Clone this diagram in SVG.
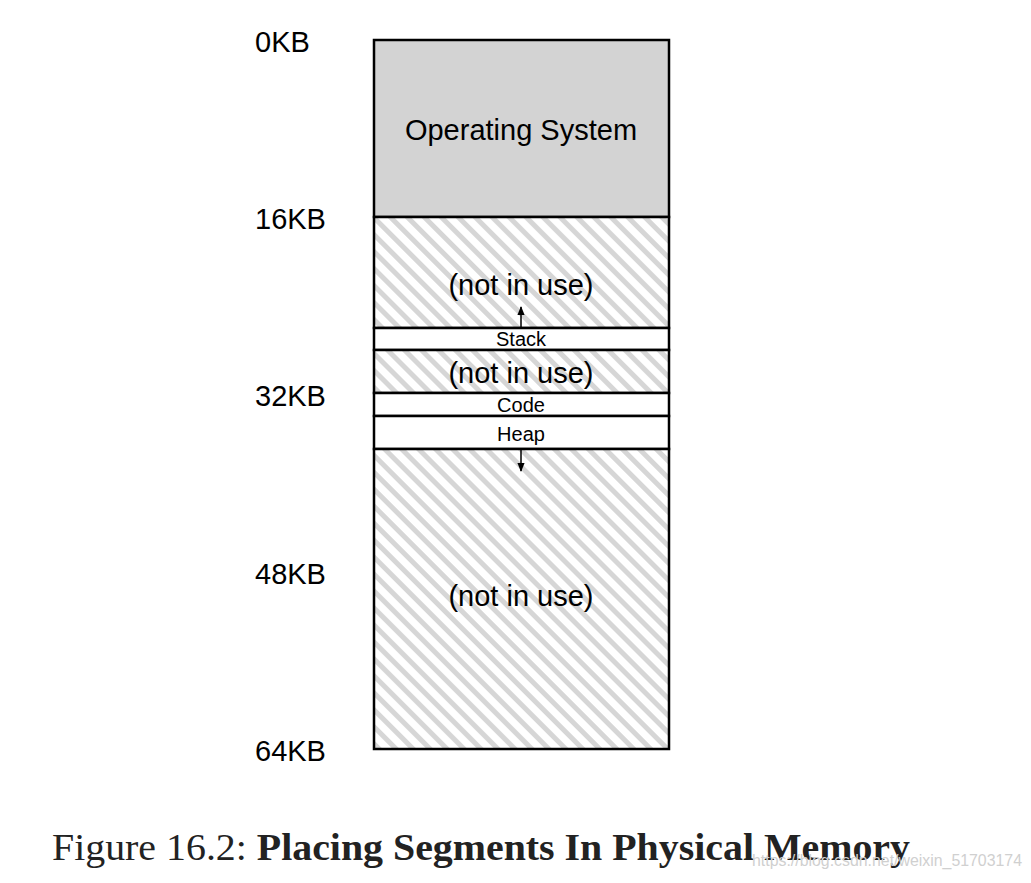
<svg xmlns="http://www.w3.org/2000/svg" width="1031" height="883" viewBox="0 0 1031 883">
<defs>
<pattern id="hatch" patternUnits="userSpaceOnUse" width="12" height="12" patternTransform="rotate(-45)">
<rect x="0" y="0" width="12" height="12" fill="#fff"/>
<rect x="0" y="0" width="5" height="12" fill="#d6d6d6"/>
</pattern>
<marker id="ah" viewBox="0 0 10 10" refX="9" refY="5" markerWidth="6" markerHeight="6" orient="auto"><path d="M0,1 L10,5 L0,9 z" fill="#000"/></marker>
</defs>
<style>
.lbl{font-family:"Liberation Sans",Arial,sans-serif;font-size:29px;fill:#000}
.big{font-family:"Liberation Sans",Arial,sans-serif;font-size:29px;fill:#000;text-anchor:middle}
.small{font-family:"Liberation Sans",Arial,sans-serif;font-size:20px;fill:#000;text-anchor:middle}
.box{stroke:#000;stroke-width:2.5}
</style>
<rect width="1031" height="883" fill="#fff"/>
<g id="labels">
<text class="lbl" x="255" y="52">0KB</text>
<text class="lbl" x="255" y="229">16KB</text>
<text class="lbl" x="255" y="406">32KB</text>
<text class="lbl" x="255" y="584">48KB</text>
<text class="lbl" x="255" y="761">64KB</text>
</g>
<g id="os"><rect class="box" x="374" y="40" width="295" height="177" fill="#d3d3d3"/><text class="big" x="521" y="140">Operating System</text></g>
<g id="free1"><rect class="box" x="374" y="217" width="295" height="111" fill="url(#hatch)"/><text class="big" x="521" y="295">(not in use)</text></g>
<g id="stack"><rect class="box" x="374" y="328" width="295" height="22" fill="#fff"/><text class="small" x="521" y="346">Stack</text></g>
<g id="free2"><rect class="box" x="374" y="350" width="295" height="43" fill="url(#hatch)"/><text class="big" x="521" y="383">(not in use)</text></g>
<g id="code"><rect class="box" x="374" y="393" width="295" height="23" fill="#fff" stroke-width="1.5"/><text class="small" x="521" y="412">Code</text></g>
<g id="heap"><rect class="box" x="374" y="416" width="295" height="33" fill="#fff" stroke-width="1.5"/><text class="small" x="521" y="441">Heap</text></g>
<g id="free3"><rect class="box" x="374" y="449" width="295" height="300" fill="url(#hatch)"/><text class="big" x="521" y="606">(not in use)</text></g>
<g id="connectors" stroke="#000" stroke-width="1.5">
<line x1="521" y1="328" x2="521" y2="307" marker-end="url(#ah)"/>
<line x1="521" y1="449" x2="521" y2="471" marker-end="url(#ah)"/>
</g>
<text x="52" y="860" font-family="'Liberation Serif',serif" font-size="38" fill="#222" textLength="858" lengthAdjust="spacingAndGlyphs">Figure 16.2: <tspan font-weight="bold">Placing Segments In Physical Memory</tspan></text>
<text x="752" y="866" font-family="'Liberation Sans',sans-serif" font-size="16" fill="#d0d0d0" textLength="270" lengthAdjust="spacingAndGlyphs">https://blog.csdn.net/weixin_51703174</text>
</svg>
